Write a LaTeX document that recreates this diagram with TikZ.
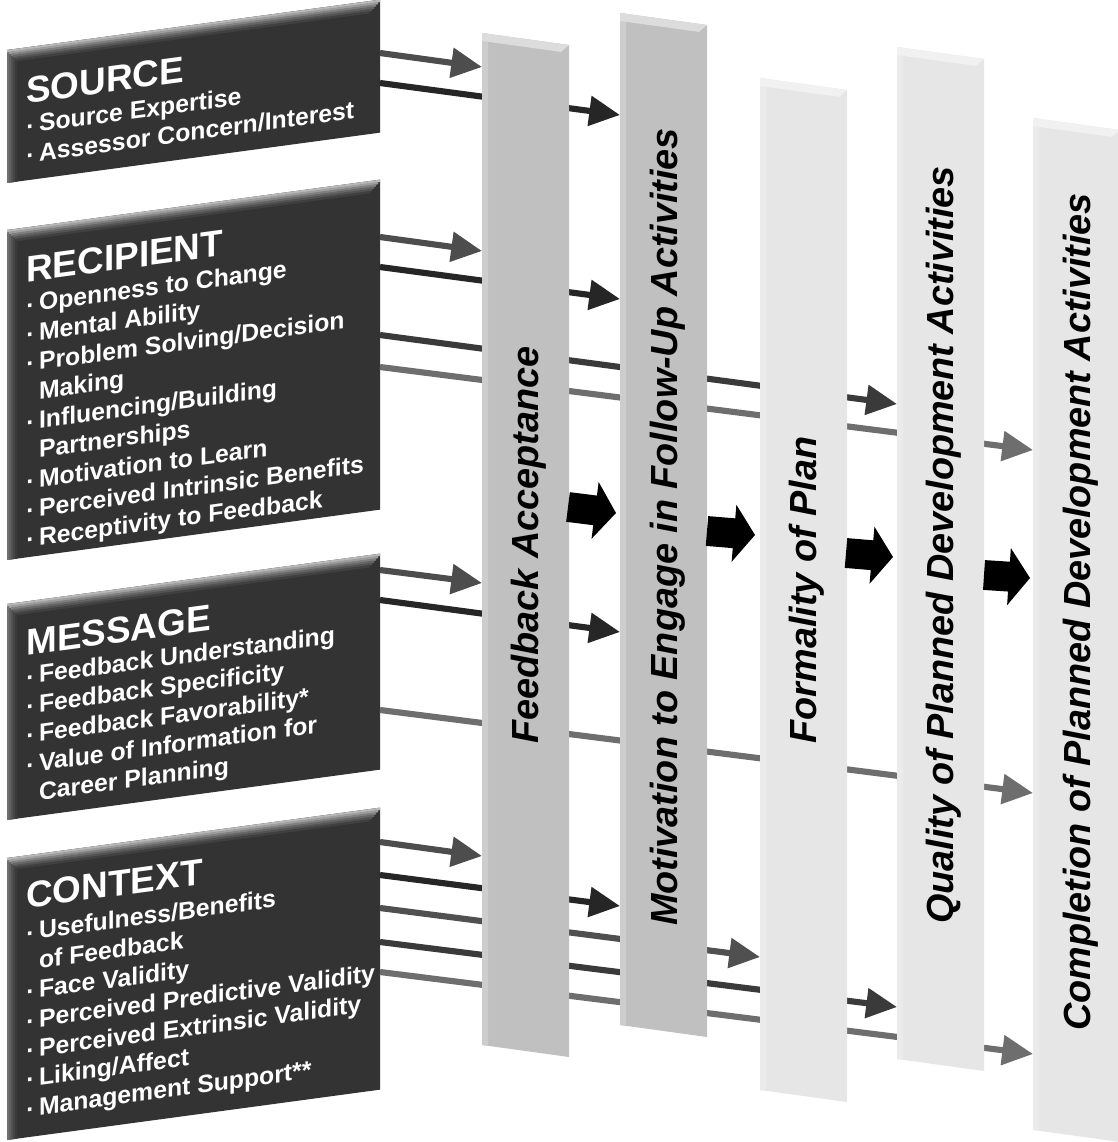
\documentclass[tikz,border=0pt]{standalone}
\usepackage{fontspec}
\setmainfont{Liberation Sans}
\usetikzlibrary{arrows.meta}

\definecolor{boxdark}{RGB}{51,51,51}
\definecolor{barmid}{RGB}{192,192,192}
\definecolor{barlight}{RGB}{230,230,230}
\definecolor{lnacc}{RGB}{77,77,77}
\definecolor{lnmot}{RGB}{38,38,38}
\definecolor{lnform}{RGB}{80,80,80}
\definecolor{lnqual}{RGB}{58,58,58}
\definecolor{lncomp}{RGB}{110,110,110}

\newcommand{\dotitem}{\makebox[7.2pt][l]{\raisebox{-0.8pt}{·}}}
\newcommand{\contline}{\hspace*{7.2pt}}

\begin{document}
\begin{tikzpicture}[
  x=0.02cm, y=-0.02cm,
  title/.style={
    text=white, font=\fontsize{21}{25}\selectfont\bfseries,
    anchor=base west, inner sep=0pt, transform shape
  },
  items/.style={
    text=white, font=\fontsize{14.1}{16.7}\selectfont\bfseries,
    align=left, anchor=north west, inner sep=0pt, transform shape
  },
  bartext/.style={
    rotate=90, anchor=base, inner sep=0pt,
    font=\fontsize{21.5}{25}\selectfont\bfseries\itshape
  },
  link/.style={line width=3.5pt, -{Triangle[length=17.5pt, width=16.5pt]}},
  toacc/.style={link, draw=lnacc},
  tomot/.style={link, draw=lnmot},
  toform/.style={link, draw=lnform},
  toqual/.style={link, draw=lnqual},
  tocomp/.style={link, draw=lncomp},
  bigarrow/.style={line width=17pt, draw=black, -{Triangle[length=12pt, width=32pt]}}
]
\useasboundingbox (0,0) rectangle (1118,1142);

% ----- panels (left column) -----
\foreach \ytop/\hgt in {50/133, 230/330, 604/216, 858/282} {
  \begin{scope}[shift={(7,\ytop)}, yslant=0.135]
    \fill[boxdark] (0,0) rectangle (373,\hgt);
    \foreach \d/\g in {0/56, 2/62, 4/68, 6/73, 8/77}
      \fill[black!\g] (\d,\d) rectangle (\d+2.4,\hgt);
    \foreach \d/\g in {0/28, 2/38, 4/50, 6/60, 8/68, 10/75}
      \fill[black!\g] (\d,\d) rectangle (373-\d,\d+2.4);
  \end{scope}
}

% ----- Source -----
\begin{scope}[shift={(7,50)}, yslant=0.135]
  \node[title] (source) at (19,56) {SOURCE};
  \node[items] (source-list) at (19,68)
    {\dotitem Source Expertise\\
     \dotitem Assessor Concern/Interest};
\end{scope}

% ----- Recipient -----
\begin{scope}[shift={(7,230)}, yslant=0.135]
  \node[title] (recipient) at (19,55) {RECIPIENT};
  \node[items] (recipient-list) at (19,67)
    {\dotitem Openness to Change\\
     \dotitem Mental Ability\\
     \dotitem Problem Solving/Decision\\
     \contline Making\\
     \dotitem Influencing/Building\\
     \contline Partnerships\\
     \dotitem Motivation to Learn\\
     \dotitem Perceived Intrinsic Benefits\\
     \dotitem Receptivity to Feedback};
\end{scope}

% ----- Message -----
\begin{scope}[shift={(7,604)}, yslant=0.135]
  \node[title] (message) at (19,54) {MESSAGE};
  \node[items] (message-list) at (19,65)
    {\dotitem Feedback Understanding\\
     \dotitem Feedback Specificity\\
     \dotitem Feedback Favorability*\\
     \dotitem Value of Information for\\
     \contline Career Planning};
\end{scope}

% ----- Context -----
\begin{scope}[shift={(7,858)}, yslant=0.135]
  \node[title] (context) at (19,53) {CONTEXT};
  \node[items] (context-list) at (19,67)
    {\dotitem Usefulness/Benefits\\
     \contline of Feedback\\
     \dotitem Face Validity\\
     \dotitem Perceived Predictive Validity\\
     \dotitem Perceived Extrinsic Validity\\
     \dotitem Liking/Affect\\
     \dotitem Management Support**};
\end{scope}

% ports
\coordinate (src-a) at (380,53);  \coordinate (acc-1) at (482,67);
\coordinate (src-b) at (380,83);  \coordinate (mot-1) at (620,115);
\coordinate (rec-a) at (380,237); \coordinate (acc-2) at (482,251);
\coordinate (rec-b) at (380,267); \coordinate (mot-2) at (620,299);
\coordinate (rec-c) at (380,335); \coordinate (qual-1) at (897,404);
\coordinate (rec-d) at (380,367); \coordinate (comp-1) at (1033,450);
\coordinate (msg-a) at (380,570); \coordinate (acc-3) at (482,583);
\coordinate (msg-b) at (380,600); \coordinate (mot-3) at (620,632);
\coordinate (msg-c) at (380,710); \coordinate (comp-2) at (1033,793);
\coordinate (ctx-a) at (380,842); \coordinate (acc-4) at (482,856);
\coordinate (ctx-b) at (380,875); \coordinate (mot-4) at (620,906);
\coordinate (ctx-c) at (380,908); \coordinate (form-1) at (760,957);
\coordinate (ctx-d) at (380,942); \coordinate (qual-2) at (897,1007);
\coordinate (ctx-e) at (380,972); \coordinate (comp-3) at (1033,1054);

% links (pass behind the bars)
\draw[toacc] (src-a) -- (acc-1);
\draw[tomot] (src-b) -- (mot-1);
\draw[toacc] (rec-a) -- (acc-2);
\draw[tomot] (rec-b) -- (mot-2);
\draw[toqual] (rec-c) -- (qual-1);
\draw[tocomp] (rec-d) -- (comp-1);
\draw[toacc] (msg-a) -- (acc-3);
\draw[tomot] (msg-b) -- (mot-3);
\draw[tocomp] (msg-c) -- (comp-2);
\draw[toacc] (ctx-a) -- (acc-4);
\draw[tomot] (ctx-b) -- (mot-4);
\draw[toform] (ctx-c) -- (form-1);
\draw[toqual] (ctx-d) -- (qual-2);
\draw[tocomp] (ctx-e) -- (comp-3);

% ----- outcome bars -----
\foreach \bx/\by/\bc in {482/33/barmid, 620/13/barmid, 760/78/barlight,
                         897/47/barlight, 1033/118/barlight} {
  \begin{scope}[shift={(\bx,\by)}, yslant=-0.138]
    \fill[\bc] (0,0) rectangle (87,1012);
    \fill[\bc!80!white] (0,0) rectangle (6,1012);
    \fill[\bc!55!white] (0,0) -- (87,0) -- (79,8) -- (0,8) -- cycle;
  \end{scope}
}

\node[bartext] (acc)  at (538,545) {Feedback Acceptance};
\node[bartext] (mot)  at (677,527) {Motivation to Engage in Follow-Up Activities};
\node[bartext] (form) at (816,590) {Formality of Plan};
\node[bartext] (qual) at (953,545) {Quality of Planned Development Activities};
\node[bartext] (comp) at (1090,612) {Completion of Planned Development Activities};

% block arrows between bars
\coordinate (acc-r) at (568,507);  \coordinate (mot-l) at (616,513);
\coordinate (mot-r) at (707,531);  \coordinate (form-l) at (755,535);
\coordinate (form-r) at (846,553); \coordinate (qual-l) at (893,557);
\coordinate (qual-r) at (984,575); \coordinate (comp-l) at (1030,578);
\draw[bigarrow] (acc-r) -- (mot-l);
\draw[bigarrow] (mot-r) -- (form-l);
\draw[bigarrow] (form-r) -- (qual-l);
\draw[bigarrow] (qual-r) -- (comp-l);

\end{tikzpicture}
\end{document}
